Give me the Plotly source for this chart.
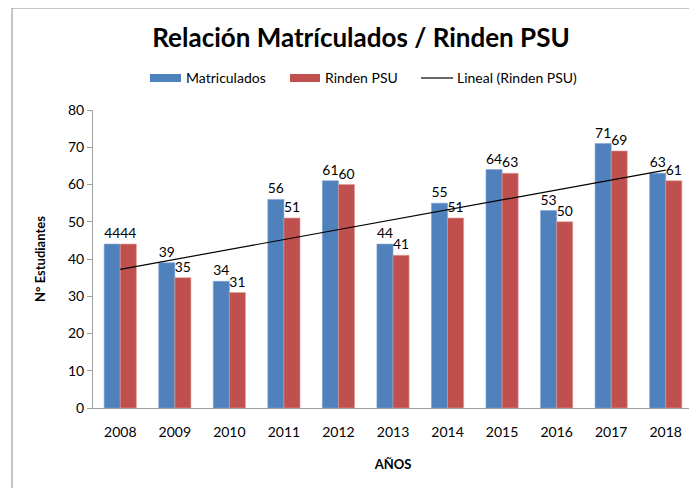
import numpy as np
import plotly.graph_objects as go

years = ["2008", "2009", "2010", "2011", "2012", "2013", "2014", "2015", "2016", "2017", "2018"]
matriculados = [44, 39, 34, 56, 61, 44, 55, 64, 53, 71, 63]
rinden_psu = [44, 35, 31, 51, 60, 41, 51, 63, 50, 69, 61]
legend_labels = ["Matriculados", "Rinden PSU", "Lineal (Rinden PSU)"]

# Linear trendline (least squares) over Rinden PSU, like Excel's "Lineal"
idx = np.arange(1, len(years) + 1)
slope, intercept = np.polyfit(idx, rinden_psu, 1)
trend = slope * idx + intercept

FONT = "Lato, Open Sans, sans-serif"
BLUE, RED = "#4F81BD", "#C0504D"
# page body has an 8px margin; figure sized to fit the 697x488 window
W, H = 689, 480
L, R, T, B = 85, 4, 102, 80
pw, ph = W - L - R, H - T - B

def px_x(px):
    return (px - L) / pw

def px_y(py):
    return (H - B - py) / ph

fig = go.Figure()
fig.add_trace(go.Bar(
    x=years, y=matriculados, name=legend_labels[0], showlegend=False,
    marker=dict(color=BLUE, line=dict(color="#7EA3D3", width=0.6)),
    text=[str(v) for v in matriculados], textposition="outside",
    textfont=dict(family=FONT, size=14, color="#000"), cliponaxis=False,
))
fig.add_trace(go.Bar(
    x=years, y=rinden_psu, name=legend_labels[1], showlegend=False,
    marker=dict(color=RED, line=dict(color="#E09A98", width=0.6)),
    text=[str(v) for v in rinden_psu], textposition="outside",
    textfont=dict(family=FONT, size=14, color="#000"), cliponaxis=False,
))
fig.add_trace(go.Scatter(
    x=years, y=trend, name=legend_labels[2], mode="lines", showlegend=False,
    line=dict(color="#000", width=1.2), hoverinfo="skip",
))

fig.update_layout(
    width=W, height=H,
    margin=dict(l=L, r=R, t=T, b=B, autoexpand=False),
    paper_bgcolor="white", plot_bgcolor="white",
    font=dict(family=FONT, size=14, color="#000"),
    barmode="group", bargap=0.41, bargroupgap=0,
    title=dict(text="<b>Relación Matrículados / Rinden PSU</b>",
               font=dict(family=FONT, size=26, color="#000"),
               x=353 / W, xref="container", xanchor="center",
               y=1 - 30 / H, yref="container", yanchor="middle"),
    showlegend=False,
    xaxis=dict(type="category", showline=True, linecolor="#A0A0A0", linewidth=1,
               ticks="", showgrid=False, tickfont=dict(family=FONT, size=14),
               automargin=False, ticklabelstandoff=11,
               title=dict(text="<b>AÑOS</b>", font=dict(family=FONT, size=13), standoff=21)),
    yaxis=dict(range=[0, 80], dtick=10, showline=True, linecolor="#A0A0A0", linewidth=1,
               ticks="outside", ticklen=5, tickcolor="#A0A0A0", showgrid=False,
               zeroline=False, tickfont=dict(family=FONT, size=14), automargin=False,
               title=dict(text="<b>N° Estudiantes</b>", font=dict(family=FONT, size=13), standoff=19)),
)

# chart outer frame (extends past the visible window on right/bottom)
fig.add_shape(type="rect", xref="paper", yref="paper",
              x0=px_x(4), x1=px_x(720), y0=px_y(520), y1=px_y(0),
              line=dict(color="#8C8C8C", width=1), fillcolor="rgba(0,0,0,0)", layer="below")

# Excel-style legend: wide swatches and a short line sample
LEG_Y = 70
fig.add_shape(type="rect", xref="paper", yref="paper",
              x0=px_x(142), x1=px_x(173), y0=px_y(74), y1=px_y(66),
              fillcolor=BLUE, line=dict(width=0))
fig.add_shape(type="rect", xref="paper", yref="paper",
              x0=px_x(282), x1=px_x(312), y0=px_y(74), y1=px_y(66),
              fillcolor=RED, line=dict(width=0))
fig.add_shape(type="line", xref="paper", yref="paper",
              x0=px_x(413), x1=px_x(445), y0=px_y(LEG_Y), y1=px_y(LEG_Y),
              line=dict(color="#000", width=1.2))
for xpos, label in zip([176, 315, 447], legend_labels):
    fig.add_annotation(x=px_x(xpos), y=px_y(LEG_Y), xref="paper", yref="paper",
                       text=label, showarrow=False, xanchor="left", yanchor="middle",
                       font=dict(family=FONT, size=14, color="#000"))

fig.write_html("out.html")
